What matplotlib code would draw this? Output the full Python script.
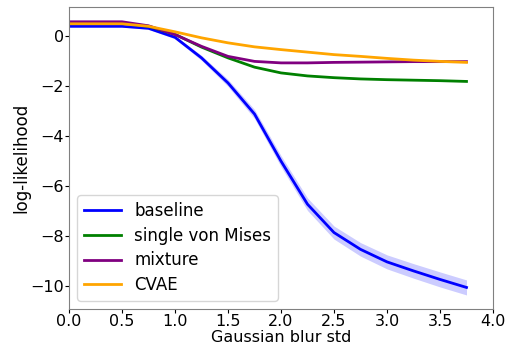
import numpy as np
import matplotlib
matplotlib.use('Agg')
import matplotlib.pyplot as plt

#blur levels
blur = [0.0, 0.25, 0.5, 0.75, 1.0, 1.25, 1.5, 1.75, 2.0, 2.25, 2.5, 2.75, 3.0, 3.25, 3.5, 3.75]
#log-likelihood per model
baseline = [0.38, 0.38, 0.38, 0.3, -0.06, -0.88, -1.88, -3.12, -5.0, -6.72, -7.85, -8.52, -9.02, -9.38, -9.72, -10.04]
baseline_err = [0.03, 0.03, 0.03, 0.04, 0.06, 0.1, 0.14, 0.18, 0.22, 0.25, 0.26, 0.27, 0.28, 0.29, 0.3, 0.3]
von_mises = [0.5, 0.5, 0.5, 0.38, 0.06, -0.45, -0.88, -1.25, -1.48, -1.6, -1.67, -1.72, -1.75, -1.77, -1.79, -1.82]
mixture = [0.56, 0.56, 0.56, 0.4, 0.05, -0.42, -0.82, -1.02, -1.08, -1.08, -1.06, -1.05, -1.04, -1.03, -1.03, -1.03]
cvae = [0.48, 0.48, 0.48, 0.38, 0.16, -0.08, -0.28, -0.44, -0.55, -0.65, -0.75, -0.82, -0.9, -0.97, -1.02, -1.06]

plt.rcParams['font.size'] = 12
fig, ax = plt.subplots(figsize=(5.07, 3.47), dpi=100)
fig.subplots_adjust(left=69/507, right=493/507, top=1-7/347, bottom=1-309/347)

b = np.array(baseline)
e = np.array(baseline_err)
ax.fill_between(blur, b - e, b + e, color='blue', alpha=0.2, lw=0)
ax.plot(blur, baseline, color='blue', lw=2, label='baseline')
ax.plot(blur, von_mises, color='green', lw=2, label='single von Mises')
ax.plot(blur, mixture, color='purple', lw=2, label='mixture')
ax.plot(blur, cvae, color='orange', lw=2, label='CVAE')

ax.set_xlim(0, 4.0)
ax.set_ylim(-10.9, 1.15)
ax.set_xticks(np.arange(0, 4.01, 0.5))
ax.set_yticks([0, -2, -4, -6, -8, -10])
ax.tick_params(length=3, pad=0.5, labelsize=11.5)
ax.set_xlabel('Gaussian blur std', va='center', fontsize=11.5)
ax.xaxis.set_label_coords(0.5, -0.096)
ax.set_ylabel('log-likelihood', va='center')
ax.yaxis.set_label_coords(-0.112, 0.5)
for s in ax.spines.values():
    s.set_color('gray')
ax.legend(loc='lower left', fontsize=12, handlelength=2.2, labelspacing=0.4, borderaxespad=0.5)
fig.savefig('out.png')
